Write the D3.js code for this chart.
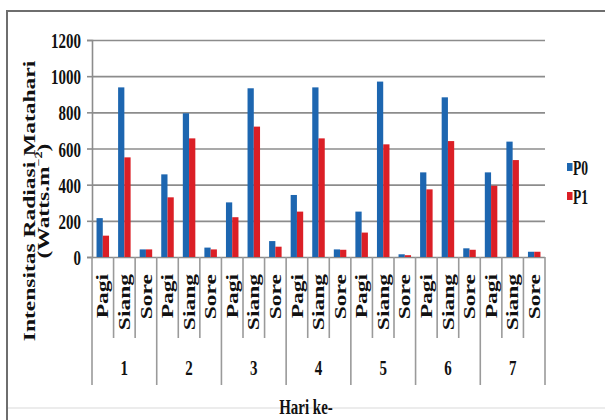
<!DOCTYPE html>
<html>
<head>
<meta charset="utf-8">
<script src="https://cdn.jsdelivr.net/npm/d3@7"></script>
<style>
  body { margin: 0; background: #fff; }
  svg { display: block; }
  svg text { font-family: "Liberation Serif", "DejaVu Serif", serif !important; font-weight: bold; fill: #111; }
</style>
</head>
<body>
<div id="chart"></div>
<script>
// data
const days = ['1', '2', '3', '4', '5', '6', '7'];
const periods = ['Pagi', 'Siang', 'Sore'];
const seriesNames = ['P0', 'P1'];
const p0 = [215, 938, 42, 457, 795, 52, 302, 933, 88, 343, 938, 42, 251, 970, 15, 468, 883, 48, 468, 638, 29];
const p1 = [118, 551, 42, 330, 656, 42, 220, 721, 57, 251, 656, 40, 135, 623, 10, 374, 641, 40, 394, 536, 29];
const yTicks = [0, 200, 400, 600, 800, 1000, 1200];
const yTitle = 'Intensitas Radiasi Matahari';
const xTitle = 'Hari ke-';

const colors = { P0: '#1d66b0', P1: '#db1f26' };
const sx = 0.68; // the picture is squeezed sideways

const width = 605, height = 420;
const margin = { top: 40, left: 92, right: 60 };
const baseY = 257;

const svg = d3.select('#chart')
  .append('svg')
  .attr('width', width)
  .attr('height', height);

// chart frame
svg.append('path')
  .attr('d', 'M7,420 V11 H605')
  .attr('fill', 'none')
  .attr('stroke', '#6e6e6e')
  .attr('stroke-width', 2);
svg.append('line')
  .attr('x1', 8).attr('x2', 605).attr('y1', 408).attr('y2', 408)
  .attr('stroke', '#e6e6e6').attr('stroke-width', 1.5);

const cats = days.flatMap(d => periods.map(p => d + '|' + p));
const rows = cats.map((c, i) => ({ cat: c, P0: p0[i], P1: p1[i] }));

const x = d3.scaleBand()
  .domain(cats)
  .range([margin.left, width - margin.right])
  .paddingInner(0.42)
  .paddingOuter(0.21);

const xs = d3.scaleBand()
  .domain(seriesNames)
  .range([0, x.bandwidth()]);

const y = d3.scaleLinear()
  .domain([0, 1200])
  .range([baseY, margin.top]);

const step = x.step();
const y0 = y(0);

// grid lines
const grid = d3.axisRight(y)
  .tickValues(yTicks)
  .tickSize(width - margin.right - margin.left)
  .tickFormat('');
svg.append('g')
  .attr('class', 'grid')
  .attr('transform', `translate(${margin.left},0)`)
  .call(grid)
  .call(g => g.select('.domain').remove())
  .call(g => g.selectAll('line').attr('stroke', '#8c8c8c').attr('stroke-width', 1.6));

// y axis
const yAxis = d3.axisLeft(y)
  .tickValues(yTicks)
  .tickSize(5)
  .tickPadding(0)
  .tickFormat(d3.format('d'));
svg.append('g')
  .attr('class', 'y-axis')
  .attr('transform', `translate(${margin.left},0)`)
  .call(yAxis)
  .call(g => g.attr('font-family', null).attr('font-size', null))
  .call(g => g.select('.domain').attr('stroke', '#8c8c8c').attr('stroke-width', 1.6))
  .call(g => g.selectAll('.tick line').attr('stroke', '#8c8c8c').attr('stroke-width', 1.6))
  .call(g => g.selectAll('.tick text')
    .attr('x', null).attr('dy', null)
    .attr('font-size', 22)
    .attr('fill', '#111')
    .attr('transform', `translate(-11,7.5) scale(${sx},1)`));

// bars
const groups = svg.append('g')
  .selectAll('g')
  .data(rows)
  .join('g')
  .attr('transform', d => `translate(${x(d.cat)},0)`);

groups.selectAll('rect')
  .data(d => seriesNames.map(s => ({ key: s, value: d[s] })))
  .join('rect')
  .attr('x', d => xs(d.key))
  .attr('width', xs.bandwidth())
  .attr('y', d => y(d.value))
  .attr('height', d => y0 - y(d.value))
  .attr('fill', d => colors[d.key]);

// multi level category axis: separators
const bounds = d3.range(cats.length + 1);
svg.append('g')
  .selectAll('line')
  .data(bounds)
  .join('line')
  .attr('x1', i => margin.left + i * step)
  .attr('x2', i => margin.left + i * step)
  .attr('y1', y0)
  .attr('y2', i => (i % 3 === 0 ? 385 : 338))
  .attr('stroke', '#9a9a9a')
  .attr('stroke-width', 1.6);

// period labels
svg.append('g')
  .selectAll('text')
  .data(cats)
  .join('text')
  .attr('text-anchor', 'end')
  .attr('font-size', 23.5)
  .attr('dy', '0.35em')
  .attr('transform', c => `translate(${x(c) + x.bandwidth() / 2},274) rotate(-90) scale(1,${sx})`)
  .text(c => c.split('|')[1]);

// day labels
svg.append('g')
  .selectAll('text')
  .data(days)
  .join('text')
  .attr('text-anchor', 'middle')
  .attr('font-size', 22)
  .attr('transform', d => `translate(${x(d + '|Siang') + x.bandwidth() / 2},375) scale(${sx},1)`)
  .text(d => d);

// x title
svg.append('text')
  .attr('text-anchor', 'middle')
  .attr('font-size', 22)
  .attr('transform', `translate(306,414) scale(${sx},1)`)
  .text(xTitle);

// y title (two lines)
svg.append('text')
  .attr('text-anchor', 'middle')
  .attr('font-size', 23.5)
  .attr('dy', '0.35em')
  .attr('transform', `translate(29,201) rotate(-90) scale(1,${sx})`)
  .text(yTitle);

const yTitle2 = svg.append('text')
  .attr('text-anchor', 'middle')
  .attr('font-size', 23.5)
  .attr('dy', '0.35em')
  .attr('transform', `translate(43,201) rotate(-90) scale(1,${sx})`);
yTitle2.append('tspan').text('(Watts.m');
yTitle2.append('tspan').attr('font-size', 14).attr('dy', '-0.7em').text('\u22122');
yTitle2.append('tspan').attr('dy', '0.45em').text(')');

// legend
const legend = svg.append('g')
  .selectAll('g')
  .data(seriesNames)
  .join('g')
  .attr('transform', (d, i) => `translate(567,${167 + i * 29})`);
legend.append('rect')
  .attr('x', 0).attr('y', -4)
  .attr('width', 5.5).attr('height', 8)
  .attr('fill', d => colors[d]);
legend.append('text')
  .attr('font-size', 20)
  .attr('transform', `translate(6,7.5) scale(${sx},1)`)
  .text(d => d);
</script>
</body>
</html>
